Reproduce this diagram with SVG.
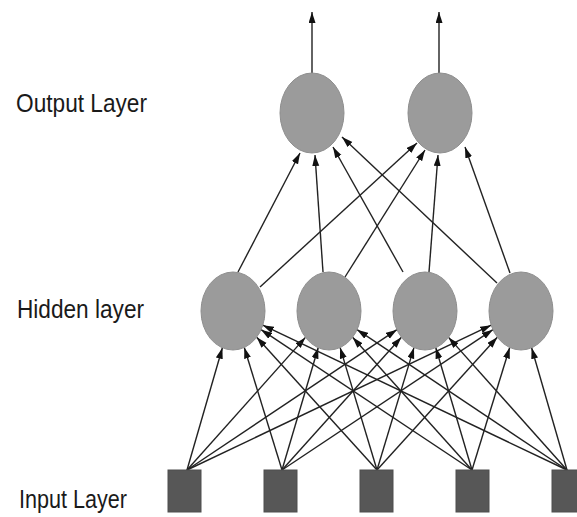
<svg xmlns="http://www.w3.org/2000/svg" width="577" height="517" viewBox="0 0 577 517">
  <defs>
    <marker id="arr" markerUnits="userSpaceOnUse" markerWidth="12" markerHeight="8" refX="11" refY="3.5" orient="auto">
      <path d="M0,0 L11,3.5 L0,7 z" fill="#111"/>
    </marker>
    <style>
      .lbl { font-family: "Liberation Sans", Arial, sans-serif; font-size: 25px; fill: #1a1a1a; }
      .hid, .out { fill: #9b9b9b; stroke: #8e8e8e; stroke-width: 1; }
      .inp { fill: #575757; stroke: #4e4e4e; stroke-width: 1; }
      .con line { stroke: #222; stroke-width: 1.4; marker-end: url(#arr); }
    </style>
  </defs>
  <rect width="577" height="517" fill="#ffffff"/>

  <g id="labels">
    <text class="lbl" x="16" y="112" textLength="131" lengthAdjust="spacingAndGlyphs">Output Layer</text>
    <text class="lbl" x="17" y="318" textLength="127" lengthAdjust="spacingAndGlyphs">Hidden layer</text>
    <text class="lbl" x="19" y="508" textLength="108" lengthAdjust="spacingAndGlyphs">Input Layer</text>
  </g>

  <g id="connectors" class="con">
    <!-- outputs up -->
    <line x1="312" y1="73" x2="312" y2="12"/>
    <line x1="439" y1="73" x2="439" y2="12"/>
    <!-- hidden to output -->
    <line x1="238" y1="272" x2="300" y2="153"/>
    <line x1="260" y1="287" x2="417" y2="143"/>
    <line x1="323" y1="272" x2="315" y2="155"/>
    <line x1="345" y1="277" x2="425" y2="150"/>
    <line x1="403" y1="272" x2="333" y2="147"/>
    <line x1="429" y1="272" x2="438" y2="155"/>
    <line x1="497" y1="283" x2="342" y2="137"/>
    <line x1="510" y1="273" x2="465" y2="147"/>
    <!-- input to hidden -->
    <line x1="187" y1="470" x2="222.4" y2="347.8"/>
    <line x1="187" y1="470" x2="305.4" y2="337.4"/>
    <line x1="187" y1="470" x2="396.9" y2="329.7"/>
    <line x1="187" y1="470" x2="491.2" y2="325.2"/>
    <line x1="282" y1="470" x2="244.3" y2="347.5"/>
    <line x1="282" y1="470" x2="318.2" y2="347.7"/>
    <line x1="282" y1="470" x2="401.4" y2="337.3"/>
    <line x1="282" y1="470" x2="492.9" y2="329.7"/>
    <line x1="377" y1="470" x2="256.7" y2="337.2"/>
    <line x1="377" y1="470" x2="340.1" y2="347.6"/>
    <line x1="377" y1="470" x2="414.0" y2="347.6"/>
    <line x1="377" y1="470" x2="497.3" y2="337.2"/>
    <line x1="472" y1="470" x2="261.1" y2="329.7"/>
    <line x1="472" y1="470" x2="352.6" y2="337.3"/>
    <line x1="472" y1="470" x2="435.8" y2="347.7"/>
    <line x1="472" y1="470" x2="509.7" y2="347.5"/>
    <line x1="567" y1="470" x2="262.8" y2="325.2"/>
    <line x1="567" y1="470" x2="357.1" y2="329.7"/>
    <line x1="567" y1="470" x2="448.6" y2="337.4"/>
    <line x1="567" y1="470" x2="531.6" y2="347.8"/>
  </g>

  <g id="out1"><ellipse class="out" cx="312" cy="113" rx="32" ry="40"/></g>
  <g id="out2"><ellipse class="out" cx="440" cy="113" rx="32" ry="40"/></g>

  <g id="hid1"><ellipse class="hid" cx="233" cy="311" rx="32" ry="39"/></g>
  <g id="hid2"><ellipse class="hid" cx="329" cy="311" rx="32" ry="39"/></g>
  <g id="hid3"><ellipse class="hid" cx="425" cy="311" rx="32" ry="39"/></g>
  <g id="hid4"><ellipse class="hid" cx="521" cy="311" rx="32" ry="39"/></g>

  <g id="in1"><rect class="inp" x="168" y="470" width="33" height="42"/></g>
  <g id="in2"><rect class="inp" x="264" y="470" width="33" height="42"/></g>
  <g id="in3"><rect class="inp" x="360" y="470" width="33" height="42"/></g>
  <g id="in4"><rect class="inp" x="456" y="470" width="33" height="42"/></g>
  <g id="in5"><rect class="inp" x="552" y="470" width="33" height="42"/></g>
</svg>
